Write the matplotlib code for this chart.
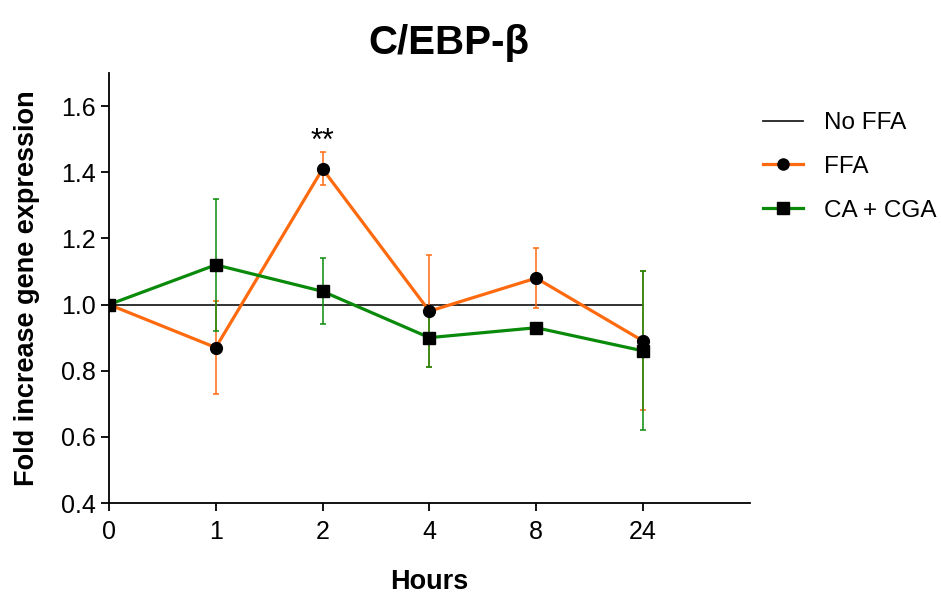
import matplotlib.pyplot as plt

plt.rcParams['font.family'] = ['Liberation Sans', 'DejaVu Sans']

hours = ['0', '1', '2', '4', '8', '24']
no_ffa = [1.0, 1.0, 1.0, 1.0, 1.0, 1.0]
ffa = [1.0, 0.87, 1.41, 0.98, 1.08, 0.89]
ffa_err = [0.0, 0.14, 0.05, 0.17, 0.09, 0.21]
ca_cga = [1.0, 1.12, 1.04, 0.90, 0.93, 0.86]
ca_cga_err = [0.0, 0.20, 0.10, 0.09, 0.0, 0.24]

orange = '#FF6A0F'
green = '#0A8A0A'

fig = plt.figure(figsize=(9.41, 6.01), dpi=100)
ax = fig.add_axes([0.1158, 0.163, 0.681, 0.7155])

x = list(range(len(hours)))

ax.plot(x, no_ffa, '-', color='#222222', lw=1.3, label='No FFA', zorder=2)

ax.errorbar(x, ffa, yerr=ffa_err, fmt='none', ecolor=orange, elinewidth=1.1,
            capsize=2.5, capthick=1.1, zorder=3)
ax.plot(x, ffa, '-', color=orange, lw=2.3, zorder=4)
ax.errorbar(x, ca_cga, yerr=ca_cga_err, fmt='none', ecolor=green, elinewidth=1.1,
            capsize=2.5, capthick=1.1, zorder=5)
ax.plot(x, ca_cga, '-', color=green, lw=2.3, zorder=6)
ax.plot(x, ffa, 'o', color='black', ms=8.5, zorder=7)
ax.plot(x, ca_cga, 's', color='black', ms=8.5, zorder=8)

# legend handles combining coloured line with black marker
h1, = ax.plot([], [], '-', color='#222222', lw=1.3)
h2, = ax.plot([], [], '-o', color=orange, lw=2.3, mfc='black', mec='black', ms=8)
h3, = ax.plot([], [], '-s', color=green, lw=2.3, mfc='black', mec='black', ms=8)
fig.legend([h1, h2, h3], ['No FFA', 'FFA', 'CA + CGA'], loc='upper left',
           bbox_to_anchor=(0.7875, 0.85), frameon=False, fontsize=17.5,
           handlelength=1.65, labelspacing=0.9, handletextpad=0.85)

ax.text(2, 1.445, '**', ha='center', va='bottom', fontsize=22)

ax.set_xlim(0, 6)
ax.set_ylim(0.4, 1.7)
ax.set_xticks(x)
ax.set_xticklabels(hours)
ax.set_yticks([0.4, 0.6, 0.8, 1.0, 1.2, 1.4, 1.6])
ax.set_yticklabels(['0.4', '0.6', '0.8', '1.0', '1.2', '1.4', '1.6'])
ax.tick_params(axis='both', labelsize=18, width=1.3, length=6, direction='out')
ax.tick_params(axis='x', pad=6)
ax.spines['top'].set_visible(False)
ax.spines['right'].set_visible(False)
ax.spines['left'].set_linewidth(1.3)
ax.spines['bottom'].set_linewidth(1.3)

ax.set_xlabel('Hours', fontsize=19.5, fontweight='bold', labelpad=18)
ax.set_ylabel('Fold increase gene expression', fontsize=19.5, fontweight='bold', labelpad=15)
fig.text(0.477, 0.928, 'C/EBP-β', ha='center', va='center', fontsize=29, fontweight='bold')

fig.savefig('out.png', dpi=100)
